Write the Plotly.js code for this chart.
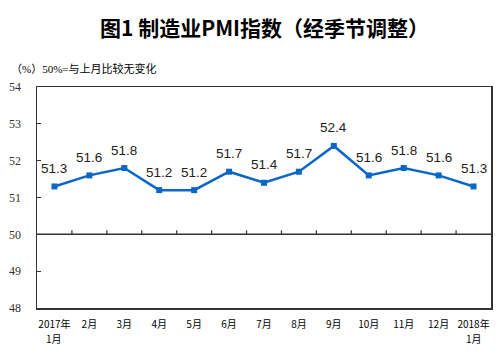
<!DOCTYPE html>
<html>
<head>
<meta charset="utf-8">
<script src="https://cdn.plot.ly/plotly-3.0.1.min.js"></script>
<style>html,body{margin:0;padding:0;background:#fff;}#chart{width:498px;height:355px;}</style>
</head>
<body>
<div id="chart"></div>
<script>
var months = ['2017年1月','2月','3月','4月','5月','6月','7月','8月','9月','10月','11月','12月','2018年1月'];
var tickLine1 = ['2017年','2月','3月','4月','5月','6月','7月','8月','9月','10月','11月','12月','2018年'];
var tickLine2 = ['1月','','','','','','','','','','','','1月'];
var pmi = [51.3, 51.6, 51.8, 51.2, 51.2, 51.7, 51.4, 51.7, 52.4, 51.6, 51.8, 51.6, 51.3];
var yTicks = [48, 49, 50, 51, 52, 53, 54];
var baseline = 50;

var trace = {
  x: months, y: pmi, type: 'scatter', mode: 'lines+markers',
  line: {color: '#0A66C8', width: 2.5},
  marker: {symbol: 'square', size: 6, color: '#0A66C8'},
  hoverinfo: 'none', cliponaxis: false
};

var annotations = pmi.map(function(v, i){
  return {x: months[i], y: v, xref: 'x', yref: 'y', text: v.toFixed(1), showarrow: false,
          yshift: 18, font: {family: 'Liberation Sans, Arial', size: 13.5, color: '#222'}};
});
tickLine2.forEach(function(t, i){
  if (t) annotations.push({x: months[i], xref: 'x', yref: 'paper', y: 0, yshift: -30, yanchor: 'middle',
    text: t, showarrow: false, font: {family: 'Noto Sans CJK SC', size: 10, color: '#000'}});
});
annotations.push({xref: 'paper', yref: 'paper', x: 0.5, y: 1, yshift: 60, xanchor: 'center', yanchor: 'middle',
  text: '<b>图1 制造业PMI指数（经季节调整）</b>', showarrow: false,
  font: {family: 'Noto Sans CJK SC', size: 21, color: '#000'}});
annotations.push({xref: 'paper', yref: 'paper', x: 0, xshift: -28, y: 1, yshift: 19, xanchor: 'left', yanchor: 'middle',
  text: '（%）50%=与上月比较无变化', showarrow: false,
  font: {family: 'Liberation Serif, Noto Sans CJK SC', size: 11, color: '#000'}});

var shapes = [{type: 'line', xref: 'paper', yref: 'y', x0: 0, x1: 1, y0: baseline, y1: baseline,
               line: {color: '#333', width: 1.5}}];
for (var i = 0; i < months.length - 1; i++) {
  shapes.push({type: 'line', xref: 'x', yref: 'y', x0: i + 0.5, x1: i + 0.5,
               ysizemode: 'pixel', yanchor: baseline, y0: 0, y1: 4,
               line: {color: '#333', width: 1.2}});
}

var layout = {
  width: 498, height: 355,
  margin: {l: 37, r: 7, t: 87, b: 47},
  paper_bgcolor: '#fff', plot_bgcolor: '#fff',
  showlegend: false,
  xaxis: {type: 'category', range: [-0.5, 12.5], showline: true, mirror: true, linecolor: '#333', linewidth: 1.5,
          tickmode: 'array', tickvals: months, ticktext: tickLine1,
          ticks: '', showgrid: false, zeroline: false, ticklabelstandoff: 6,
          tickfont: {family: 'Noto Sans CJK SC', size: 10, color: '#000'}},
  yaxis: {range: [48, 54], tickmode: 'array', tickvals: yTicks, showline: true, mirror: true, linecolor: '#333', linewidth: 1.5,
          ticks: 'inside', ticklen: 4, tickcolor: '#333', showgrid: false, zeroline: false, ticklabelstandoff: 12,
          tickfont: {family: 'Liberation Serif, Times New Roman', size: 12, color: '#333'}},
  shapes: shapes,
  annotations: annotations
};

Plotly.newPlot('chart', [trace], layout, {staticPlot: true, displayModeBar: false});
</script>
</body>
</html>
